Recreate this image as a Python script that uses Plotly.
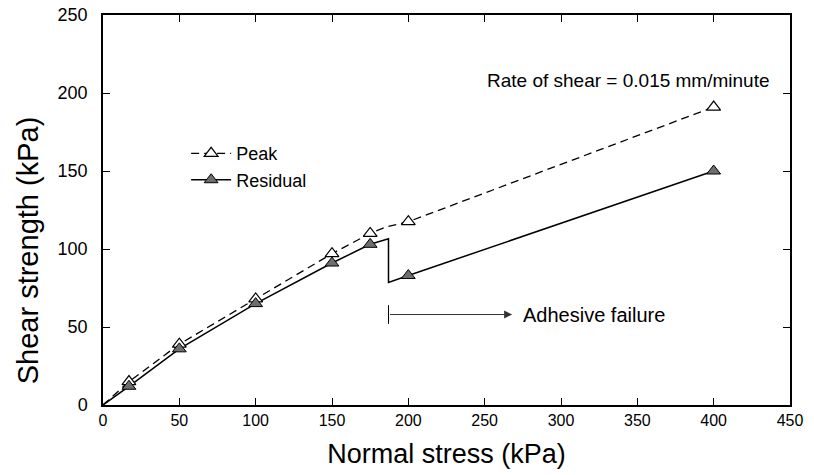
import plotly.graph_objects as go

stress = [17, 50, 100, 150, 175, 200, 400]
peak = [15, 39, 68, 97, 110, 117.5, 191]
residual = [12, 36, 65, 91, 103, 83, 150]

# fitted curves drawn through the points
peak_line_x = [0, 17, 50, 100, 150, 175, 185, 200, 400]
peak_line_y = [0, 15, 39, 68, 97, 110, 114, 117.5, 191]
resid_line_x = [0, 17, 50, 100, 150, 175, 187, 187, 200, 400]
resid_line_y = [0, 12, 36, 65, 91, 103, 106.5, 78.5, 83, 150]

FONT = "Liberation Sans, Arial, sans-serif"
DASH = "8px,5px"

fig = go.Figure()

fig.add_trace(go.Scatter(x=peak_line_x, y=peak_line_y, mode="lines",
                         line=dict(color="black", width=1.3, dash=DASH),
                         showlegend=False, hoverinfo="skip"))
fig.add_trace(go.Scatter(x=resid_line_x, y=resid_line_y, mode="lines",
                         line=dict(color="black", width=1.5),
                         showlegend=False, hoverinfo="skip"))
fig.add_trace(go.Scatter(x=stress, y=peak, mode="markers", name="Peak",
                         marker=dict(symbol="triangle-up", size=12, color="white",
                                     line=dict(color="black", width=1.2)),
                         showlegend=False))
fig.add_trace(go.Scatter(x=stress, y=residual, mode="markers", name="Residual",
                         marker=dict(symbol="triangle-up", size=12, color="#6e6e6e",
                                     line=dict(color="black", width=1)),
                         showlegend=False))

# legend entries
fig.add_trace(go.Scatter(x=[None], y=[None], mode="lines+markers", name="Peak",
                         line=dict(color="black", width=1.3, dash=DASH),
                         marker=dict(symbol="triangle-up", size=12, color="white",
                                     line=dict(color="black", width=1.2))))
fig.add_trace(go.Scatter(x=[None], y=[None], mode="lines+markers", name="Residual",
                         line=dict(color="black", width=1.5),
                         marker=dict(symbol="triangle-up", size=12, color="#6e6e6e",
                                     line=dict(color="black", width=1))))

fig.add_annotation(x=438, y=208, xref="x", yref="y", text="Rate of shear = 0.015 mm/minute",
                   showarrow=False, xanchor="right", font=dict(size=19, color="black", family=FONT))

# adhesive failure arrow
fig.add_annotation(x=268, y=58, ax=187, ay=58, xref="x", yref="y", axref="x", ayref="y",
                   text="", showarrow=True, arrowhead=2, arrowsize=1.6, arrowwidth=1,
                   arrowcolor="#333333")
fig.add_shape(type="line", x0=187, x1=187, y0=52, y1=64, xref="x", yref="y",
              line=dict(color="black", width=1))
fig.add_annotation(x=274, y=58, xref="x", yref="y", text="Adhesive failure",
                   showarrow=False, xanchor="left", font=dict(size=20, color="black", family=FONT))

# y title sits below the middle of the axis in the original, so it is placed by hand
fig.add_annotation(x=-0.109, y=0.397, xref="paper", yref="paper", text="Shear strength (kPa)",
                   textangle=-90, showarrow=False, xanchor="center", yanchor="middle",
                   font=dict(size=29, color="black", family=FONT))

axis_common = dict(showgrid=False, zeroline=False, showline=True, linecolor="black",
                   linewidth=1.5, mirror="ticks", ticks="inside", ticklen=7,
                   tickcolor="black", automargin=False, ticklabeloverflow="allow")

fig.update_xaxes(range=[0, 450], tick0=0, dtick=50,
                 tickfont=dict(size=16, color="black", family=FONT),
                 title=dict(text="Normal stress (kPa)", font=dict(size=27, color="black", family=FONT),
                            standoff=16),
                 **axis_common)
fig.update_yaxes(range=[0, 250], tick0=0, dtick=50, ticklabelstandoff=10,
                 tickfont=dict(size=18, color="black", family=FONT),
                 **axis_common)

fig.update_layout(
    width=814, height=475,
    margin=dict(l=103, r=24, t=15, b=70),
    plot_bgcolor="white", paper_bgcolor="white",
    font=dict(family=FONT, color="black"),
    legend=dict(x=0.121, y=0.692, xanchor="left", yanchor="top",
                bgcolor="rgba(0,0,0,0)", font=dict(size=18, family=FONT, color="black"),
                itemwidth=40, tracegroupgap=0),
)

# drop the default page margin so the figure fills the window exactly
fig.write_html("out.html", config={"displayModeBar": False},
               post_script="document.body.style.margin='0px';")
